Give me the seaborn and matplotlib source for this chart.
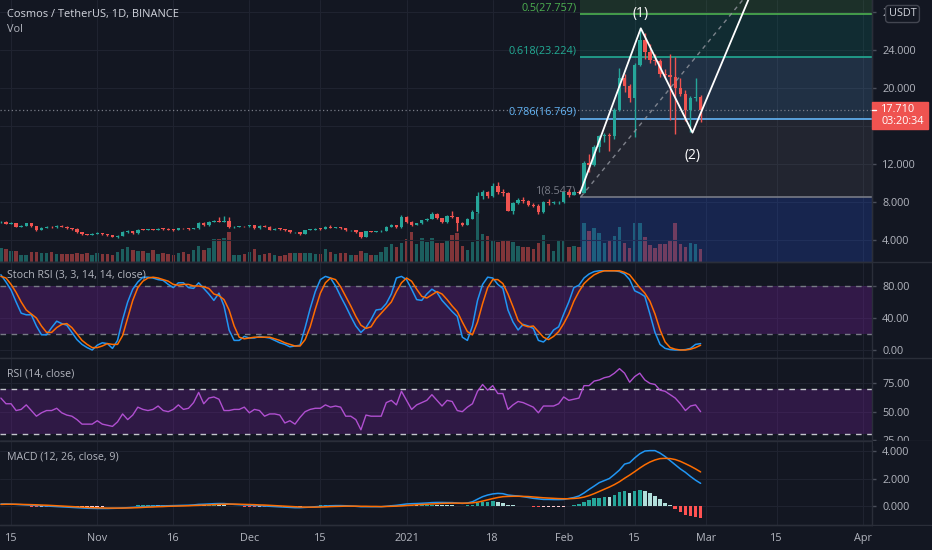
import numpy as np
import matplotlib.pyplot as plt
import seaborn as sns
from matplotlib.patches import Rectangle
from matplotlib.lines import Line2D

# daily candles ATOM/USDT, index 0 = 13 Oct 2020 ... 138 = 28 Feb 2021
close = [5.93, 5.72, 5.78, 5.42, 5.48, 5.75, 5.48, 5.05, 5.30, 5.40,
         5.32, 5.50, 5.42, 5.22, 5.18, 4.82, 4.60, 4.56, 4.62, 4.72,
         4.62, 4.50, 4.36, 4.42, 4.85, 4.92, 4.72, 5.10, 5.08, 5.10,
         5.08, 5.20, 5.18, 5.10, 5.06, 5.26, 5.24, 5.16, 5.22, 5.82,
         5.56, 5.90, 6.00, 5.92, 6.02, 5.32, 5.42, 5.47, 5.45, 5.55,
         5.25, 5.50, 5.40, 5.10, 5.20, 5.18, 5.05, 4.80, 4.82, 4.66,
         5.05, 5.10, 5.20, 5.18, 5.40, 5.30, 5.32, 5.27, 5.00, 5.02,
         4.80, 4.35, 4.90, 4.88, 4.90, 4.95, 5.40, 5.60, 5.35, 6.45,
         5.90, 5.60, 5.75, 6.10, 6.25, 6.75, 6.30, 5.85, 6.50, 6.40,
         5.75, 5.60, 6.25, 6.90, 8.60, 9.00, 8.60, 9.70, 9.00, 8.90,
         7.10, 7.90, 8.20, 8.10, 7.70, 7.60, 6.90, 8.00, 7.90, 7.95,
         8.00, 9.00, 8.75, 9.05, 8.95, 12.07, 11.90, 13.80, 14.90, 15.10,
         14.90, 17.70, 21.00, 20.20, 18.90, 22.40, 25.05, 23.80, 22.95, 22.80,
         21.50, 21.35, 21.15, 20.00, 19.40, 17.70, 18.90, 19.10, 17.71]
high = [6.00, 5.95, 5.85, 5.82, 5.55, 5.80, 5.80, 5.52, 5.35, 5.45,
        5.45, 5.55, 5.55, 5.45, 5.28, 5.22, 4.85, 4.66, 4.70, 4.80,
        4.76, 4.65, 4.52, 4.50, 4.92, 5.00, 4.95, 5.15, 5.20, 5.15,
        5.15, 5.25, 5.25, 5.22, 5.12, 5.30, 5.30, 5.26, 5.28, 5.90,
        5.90, 5.95, 6.08, 6.45, 6.50, 6.40, 5.48, 5.52, 5.52, 5.62,
        5.58, 5.55, 5.55, 5.45, 5.25, 5.25, 5.20, 5.08, 4.88, 4.86,
        5.10, 5.15, 5.25, 5.25, 5.45, 5.60, 5.38, 5.35, 5.30, 5.08,
        5.05, 4.85, 4.95, 4.96, 4.96, 5.00, 5.45, 5.68, 5.62, 6.60,
        6.50, 5.95, 5.82, 6.15, 6.32, 6.95, 6.80, 6.35, 6.60, 7.00,
        6.45, 5.85, 6.30, 7.15, 9.00, 9.30, 9.20, 9.95, 10.15, 9.40,
        9.00, 8.05, 8.45, 8.55, 8.20, 7.85, 7.75, 8.10, 8.30, 8.10,
        8.15, 9.10, 9.40, 9.20, 9.25, 12.30, 13.00, 14.00, 15.10, 15.30,
        15.30, 17.90, 22.07, 21.50, 20.40, 22.60, 26.28, 25.80, 24.60, 23.60,
        23.00, 22.00, 23.60, 23.30, 21.00, 19.80, 19.20, 21.00, 19.30]
low = [5.80, 5.65, 5.68, 5.38, 5.38, 5.45, 5.42, 4.98, 5.00, 5.26,
       5.25, 5.28, 5.35, 5.15, 5.10, 4.75, 4.52, 4.48, 4.52, 4.58,
       4.55, 4.42, 4.28, 4.25, 4.38, 4.75, 4.65, 4.68, 5.00, 5.02,
       5.00, 5.05, 5.10, 5.05, 4.98, 5.02, 5.18, 5.10, 5.12, 5.15,
       5.50, 5.50, 5.85, 5.85, 5.85, 5.25, 5.28, 5.38, 5.38, 5.40,
       5.18, 5.20, 5.35, 5.05, 5.05, 5.10, 4.98, 4.72, 4.72, 4.55,
       4.60, 5.00, 5.05, 5.10, 5.12, 5.22, 5.22, 5.18, 4.92, 4.92,
       4.72, 4.18, 4.30, 4.80, 4.82, 4.85, 4.90, 5.35, 5.28, 5.30,
       5.80, 5.50, 5.55, 5.70, 6.05, 6.20, 6.20, 5.78, 5.80, 6.30,
       4.95, 5.45, 5.55, 6.20, 6.85, 8.30, 8.45, 8.50, 8.80, 8.60,
       7.00, 6.75, 7.80, 7.90, 7.55, 7.45, 6.70, 6.85, 7.70, 7.75,
       7.80, 7.90, 8.55, 8.70, 8.80, 8.90, 11.20, 11.80, 13.30, 14.30,
       13.40, 14.60, 17.60, 19.60, 18.56, 14.88, 22.30, 23.10, 22.60, 22.40,
       21.20, 21.00, 16.60, 15.20, 19.20, 16.50, 15.40, 18.60, 16.46]
first_open = 5.85

# volume, millions ATOM
volume = [1.37, 1.27, 1.13, 1.13, 0.67, 0.67, 0.97, 1.03, 0.87, 0.87,
          0.97, 0.77, 0.80, 0.80, 0.80, 0.87, 0.80, 0.87, 0.70, 0.87,
          0.80, 0.80, 0.70, 1.03, 1.27, 1.47, 1.20, 1.13, 1.13, 0.93,
          1.20, 0.80, 0.87, 0.80, 0.70, 0.93, 1.03, 0.80, 1.20, 1.60,
          1.20, 1.37, 2.27, 2.27, 2.40, 3.03, 0.70, 0.70, 0.80, 1.03,
          1.27, 0.70, 0.77, 0.87, 0.70, 0.60, 0.70, 0.87, 0.87, 0.93,
          0.87, 0.93, 0.80, 0.80, 1.27, 1.03, 0.80, 0.87, 0.87, 0.70,
          0.70, 1.13, 0.93, 0.70, 0.70, 1.03, 1.47, 1.80, 1.47, 1.93,
          2.27, 3.03, 1.80, 2.37, 2.03, 2.37, 1.87, 1.87, 2.20, 2.70,
          2.87, 1.60, 1.20, 2.03, 4.87, 2.80, 2.60, 2.20, 2.03, 2.13,
          2.13, 2.03, 1.60, 1.53, 1.47, 1.27, 1.87, 2.70, 1.80, 1.13,
          2.13, 2.13, 1.47, 1.60, 1.53, 3.87, 3.13, 3.37, 2.87, 1.87,
          2.13, 2.60, 3.47, 1.87, 1.37, 3.93, 3.87, 2.53, 1.70, 1.37,
          1.80, 1.80, 2.20, 3.87, 1.80, 1.53, 1.93, 1.80, 1.27]

stoch_k = [94, 85, 75, 60, 46, 44, 44, 30, 19, 19,
           28, 36, 33, 31, 22, 13, 7, 3, 0, 6,
           9, 8, 2, 12, 38, 60, 76, 85, 91, 91,
           90, 88, 87, 82, 78, 84, 84, 78, 77, 84,
           77, 70, 62, 71, 55, 25, 12, 12, 17, 15,
           15, 17, 16, 15, 12, 9, 7, 4, 5, 6,
           28, 52, 73, 88, 92, 90, 80, 67, 55, 42,
           30, 22, 28, 38, 50, 51, 58, 70, 90, 92,
           88, 76, 63, 62, 70, 76, 72, 62, 55, 48,
           42, 16, 12, 30, 62, 82, 91, 90, 82, 77,
           50, 35, 25, 32, 30, 27, 12, 10, 16, 25,
           29, 45, 60, 78, 81, 90, 95, 98, 99, 99,
           99, 99, 98, 95, 88, 74, 71, 67, 45, 22,
           7, 2, 0.5, 0, 0, 0.5, 2, 7, 8]
stoch_d = [92, 90, 82, 72, 60, 50, 45, 40, 30, 22,
           22, 28, 32, 33, 28, 20, 12, 7, 3, 3,
           5, 8, 7, 7, 18, 40, 62, 78, 86, 90,
           91, 90, 88, 86, 82, 81, 82, 82, 80, 80,
           79, 77, 70, 68, 63, 50, 30, 16, 14, 15,
           16, 16, 16, 16, 14, 12, 9, 7, 5, 5,
           13, 29, 51, 71, 84, 90, 88, 79, 67, 55,
           42, 31, 27, 29, 39, 46, 53, 60, 73, 84,
           90, 86, 76, 67, 65, 69, 73, 70, 63, 55,
           48, 35, 23, 19, 35, 58, 78, 88, 88, 83,
           70, 54, 37, 31, 29, 30, 23, 16, 13, 17,
           23, 33, 45, 61, 73, 83, 89, 94, 97, 99,
           99, 99, 99, 97, 94, 86, 78, 71, 61, 45,
           25, 10, 3, 1, 0, 0, 1, 3, 6]
rsi = [62, 57, 57, 51, 52, 56, 51, 46, 49, 51,
       51, 53, 49, 47, 46, 43, 39, 39, 39, 42,
       39, 38, 37, 41, 48, 43, 47, 54, 52, 51,
       52, 55, 51, 50, 52, 56, 52, 53, 58, 67,
       57, 62, 63, 61, 51, 51, 52, 52, 54, 49,
       52, 51, 46, 48, 48, 47, 40, 42, 39, 45,
       50, 52, 53, 53, 56, 54, 55, 54, 46, 46,
       43, 34, 47, 46, 46, 46, 58, 60, 56, 68,
       60, 52, 56, 58, 60, 65, 60, 55, 60, 59,
       51, 50, 54, 57, 68, 74, 69, 73, 66, 66,
       52, 56, 59, 58, 56, 54, 49, 55, 55, 55,
       57, 63, 60, 61, 62, 73, 73, 77, 78, 80,
       81, 84, 88, 84, 76, 81, 84, 78, 75, 74,
       69, 68, 65, 62, 57, 51, 55, 56, 50]
macd = [0.15, 0.15, 0.14, 0.12, 0.10, 0.08, 0.06, 0.04, 0.02, 0.00,
        -0.02, -0.04, -0.06, -0.08, -0.10, -0.12, -0.14, -0.16, -0.17, -0.18,
        -0.18, -0.18, -0.17, -0.16, -0.14, -0.12, -0.10, -0.07, -0.05, -0.03,
        -0.01, 0.00, 0.01, 0.02, 0.03, 0.04, 0.05, 0.06, 0.08, 0.12,
        0.13, 0.15, 0.17, 0.18, 0.18, 0.15, 0.12, 0.10, 0.08, 0.06,
        0.04, 0.02, 0.00, -0.02, -0.04, -0.06, -0.08, -0.10, -0.12, -0.12,
        -0.10, -0.08, -0.05, -0.03, 0.00, 0.02, 0.03, 0.03, 0.02, 0.00,
        -0.02, -0.05, -0.05, -0.05, -0.05, -0.05, -0.02, 0.02, 0.05, 0.10,
        0.15, 0.17, 0.18, 0.20, 0.22, 0.25, 0.26, 0.26, 0.25, 0.25,
        0.22, 0.19, 0.22, 0.31, 0.50, 0.68, 0.80, 0.88, 0.92, 0.90,
        0.80, 0.76, 0.73, 0.68, 0.62, 0.56, 0.52, 0.48, 0.48, 0.47,
        0.47, 0.48, 0.55, 0.62, 0.73, 0.95, 1.21, 1.45, 1.70, 1.85,
        2.00, 2.30, 2.62, 3.05, 3.15, 3.50, 3.80, 4.00, 4.03, 4.03,
        3.85, 3.60, 3.30, 3.00, 2.70, 2.45, 2.15, 1.88, 1.65]
signal = [0.12, 0.13, 0.13, 0.13, 0.12, 0.11, 0.10, 0.09, 0.07, 0.06,
          0.04, 0.02, 0.00, -0.02, -0.04, -0.06, -0.08, -0.10, -0.12, -0.13,
          -0.14, -0.15, -0.15, -0.15, -0.15, -0.14, -0.13, -0.12, -0.10, -0.08,
          -0.07, -0.05, -0.04, -0.02, -0.01, 0.00, 0.01, 0.02, 0.04, 0.05,
          0.07, 0.08, 0.10, 0.12, 0.13, 0.14, 0.14, 0.13, 0.12, 0.11,
          0.10, 0.08, 0.07, 0.05, 0.03, 0.01, -0.01, -0.03, -0.05, -0.07,
          -0.08, -0.08, -0.08, -0.07, -0.06, -0.04, -0.03, -0.02, -0.01, -0.01,
          -0.01, -0.02, -0.02, -0.03, -0.03, -0.04, -0.03, -0.02, -0.01, 0.01,
          0.04, 0.06, 0.09, 0.11, 0.13, 0.15, 0.17, 0.19, 0.20, 0.21,
          0.21, 0.21, 0.21, 0.23, 0.28, 0.36, 0.45, 0.54, 0.62, 0.68,
          0.70, 0.71, 0.71, 0.70, 0.69, 0.66, 0.63, 0.60, 0.58, 0.56,
          0.54, 0.53, 0.53, 0.55, 0.58, 0.65, 0.76, 0.90, 1.06, 1.22,
          1.38, 1.56, 1.77, 2.02, 2.25, 2.50, 2.76, 3.00, 3.20, 3.35,
          3.45, 3.47, 3.45, 3.38, 3.25, 3.08, 2.90, 2.70, 2.48]
hist = [0.03, 0.02, 0.01, -0.01, -0.02, -0.03, -0.04, -0.05, -0.05, -0.06,
        -0.06, -0.06, -0.06, -0.06, -0.06, -0.06, -0.06, -0.06, -0.05, -0.05,
        -0.04, -0.03, -0.02, -0.01, 0.01, 0.02, 0.03, 0.05, 0.05, 0.05,
        0.06, 0.05, 0.05, 0.04, 0.04, 0.04, 0.04, 0.04, 0.04, 0.07,
        0.06, 0.07, 0.07, 0.06, 0.05, 0.01, -0.02, -0.03, -0.04, -0.05,
        -0.06, -0.06, -0.07, -0.07, -0.07, -0.07, -0.07, -0.07, -0.07, -0.05,
        -0.02, 0.00, 0.03, 0.04, 0.06, 0.06, 0.06, 0.05, 0.03, 0.01,
        -0.01, -0.03, -0.03, -0.02, -0.02, -0.01, 0.01, 0.04, 0.06, 0.09,
        0.11, 0.11, 0.09, 0.09, 0.09, 0.10, 0.09, 0.07, 0.05, 0.04,
        0.01, -0.02, 0.05, 0.10, 0.22, 0.30, 0.32, 0.33, 0.28, 0.22,
        0.10, 0.05, 0.03, 0.02, -0.02, -0.05, -0.10, -0.10, -0.10, -0.09,
        -0.07, -0.05, 0.02, 0.08, 0.15, 0.28, 0.44, 0.55, 0.62, 0.65,
        0.64, 0.80, 1.02, 1.08, 0.98, 1.08, 1.15, 1.12, 0.92, 0.72,
        0.48, 0.24, 0.07, -0.24, -0.42, -0.62, -0.72, -0.80, -0.86]

date_ticks = [2, 19, 34, 49, 63, 80, 97, 111, 125, 139, 153, 170]
date_labels = ['15', 'Nov', '16', 'Dec', '15', '2021', '18', 'Feb', '15', 'Mar', '15', 'Apr']

price_ticks = [4, 8, 12, 16, 20, 24, 28]
# 16.000 sits under the last-price badge, 28.000 under the USDT badge
price_labels = ['4.000', '8.000', '12.000', '', '20.000', '24.000', '2']

# fib retracement drawn from the 4 Feb low
fib_names = ['0.382', '0.5', '0.618', '0.786', '1', '1.618']
fib_prices = [32.290, 27.757, 23.224, 16.769, 8.547, -15.196]
fib_colors = ['#4caf50', '#4caf50', '#22ab94', '#64b5f6', '#787b86', '#2962ff']
zone_colors = ['#4caf50', '#089981', '#64b5f6', '#787b86', '#2962ff']
zone_alpha = [0.17, 0.17, 0.16, 0.15, 0.2]
fib_from = 114.3

# elliott count (1)-(2) and dashed trend line
wave_days = [114.2, 126.2, 136.4, 148.0]
wave_prices = [8.92, 26.28, 15.30, 30.02]
trend_days = [114.4, 148.0]
trend_prices = [8.56, 30.37]

BG = '#131722'
GRID = '#1f2330'
SEP = '#2a2e39'
TXT = '#b2b5be'
UP = '#26a69a'
DOWN = '#ef5350'
W, H = 932, 550
XMAX = 171.8

sns.set_theme(style='dark', rc={'axes.facecolor': BG, 'figure.facecolor': BG,
                                'savefig.facecolor': BG})
plt.rcParams['font.family'] = ['Open Sans', 'DejaVu Sans']

fig = plt.figure(figsize=(W / 100, H / 100), dpi=100)


def pane(top, bottom, sharex=None):
    ax = fig.add_axes([0, 1 - bottom / H, 872 / W, (bottom - top) / H], sharex=sharex)
    ax.set_facecolor(BG)
    for s in ('top', 'left'):
        ax.spines[s].set_visible(False)
    for s in ('bottom', 'right'):
        ax.spines[s].set_color(SEP)
        ax.spines[s].set_linewidth(1)
    ax.yaxis.tick_right()
    ax.tick_params(axis='y', length=3, width=1, color='#4a4e5a', pad=4.3,
                   labelsize=7.8, labelcolor=TXT)
    ax.tick_params(axis='x', length=0, labelbottom=False)
    ax.grid(True, color=GRID, lw=0.8)
    ax.set_axisbelow(True)
    return ax


days = np.arange(len(close))
c = np.array(close)
o = np.r_[first_open, c[:-1]]
colors = np.where(c >= o, UP, DOWN)

# main pane: volume underneath, price on top
vax = pane(0, 262)
vax.grid(False)
vax.bar(days, volume, width=0.7, color=colors, alpha=0.5, lw=0)
vax.set_ylim(0, 26.2)
vax.set_yticks([])
vax.set_xlim(-0.18, XMAX)
vax.set_xticks(date_ticks)

ax = pane(0, 262, sharex=vax)
ax.patch.set_alpha(0)
ax.set_zorder(vax.get_zorder() + 1)
ax.set_ylim(1.684, 29.263)
ax.set_yticks(price_ticks)
ax.set_yticklabels(price_labels)

for i, col in enumerate(zone_colors):
    ax.fill_between([fib_from, XMAX], fib_prices[i + 1], fib_prices[i],
                    color=col, alpha=zone_alpha[i], lw=0, zorder=1)
for name, price, col in zip(fib_names, fib_prices, fib_colors):
    if 0 < price < 29:
        ax.hlines(price, fib_from, XMAX, color=col, lw=1.2, zorder=2)
        ax.annotate(f'{name}({price:.3f})', (fib_from, price), xytext=(-3, 0.5),
                    textcoords='offset points', ha='right', va='bottom',
                    color=col, fontsize=7.8, zorder=2.2)

ax.axhline(close[-1], color='#787b86', ls=(0, (1, 2)), lw=0.9, zorder=2)
ax.vlines(days, low, high, colors=colors, lw=1, zorder=3)
ax.bar(days, np.maximum(np.abs(c - o), 0.06), bottom=np.minimum(o, c),
       width=0.68, color=colors, lw=0, zorder=4)

ax.plot(trend_days, trend_prices, color='#9598a1', lw=1, ls=(0, (3, 3)), alpha=0.8, zorder=5)
ax.plot(wave_days, wave_prices, color='white', lw=1.3, zorder=6)
ax.annotate('(1)', (wave_days[1], wave_prices[1]), xytext=(0, 5), textcoords='offset points',
            ha='center', va='bottom', color='white', fontsize=10)
ax.annotate('(2)', (wave_days[2], wave_prices[2]), xytext=(0, -11), textcoords='offset points',
            ha='center', va='top', color='white', fontsize=10)

# last price badge
btr = ax.get_yaxis_transform()
ax.add_patch(Rectangle((1.0, close[-1] - 2.03), 56 / 872, 2.84, transform=btr,
                       color='#ef5350', clip_on=False, zorder=10))
ax.plot([1.0, 1.0046], [close[-1], close[-1]], transform=btr, color='white', lw=1,
        clip_on=False, zorder=11)
ax.annotate(f'{close[-1]:.3f}', (1.0, close[-1]), xycoords=btr, xytext=(6.5, 0),
            textcoords='offset points', va='center', color='white', fontsize=7.8,
            annotation_clip=False, zorder=11)
ax.annotate('03:20:34', (1.0, close[-1]), xycoords=btr, xytext=(6.5, -8.8),
            textcoords='offset points', va='center', color='white', fontsize=7.8,
            annotation_clip=False, zorder=11)

# stoch rsi
sax = pane(262, 358, sharex=vax)
sax.set_ylim(-10, 110)
sax.axhspan(20, 80, color='#7b1fa2', alpha=0.3, lw=0)
for lvl in (80, 20):
    sax.axhline(lvl, color='#787b86', ls=(0, (4, 4)), lw=1)
sns.lineplot(x=days, y=stoch_k, ax=sax, color='#2196f3', lw=1.1, legend=False)
sns.lineplot(x=days, y=stoch_d, ax=sax, color='#ff6d00', lw=1.1, legend=False)
sax.set_yticks([0, 40, 80])
sax.set_yticklabels(['0.00', '40.00', '80.00'])

# rsi
rax = pane(358, 441, sharex=vax)
rax.set_ylim(24.1, 97.4)
rax.axhspan(30, 70, color='#7b1fa2', alpha=0.28, lw=0)
for lvl in (70, 30):
    rax.axhline(lvl, color='#c3c5cc', ls=(0, (4, 4)), lw=1)
sns.lineplot(x=days, y=rsi, ax=rax, color='#b04fd0', lw=1.0, legend=False)
rax.set_yticks([25, 50, 75])
rax.set_yticklabels(['25.00', '50.00', '75.00'])

# macd
max_ = pane(441, 525, sharex=vax)
max_.set_ylim(-1.38, 4.73)
h = np.array(hist)
prev = np.r_[h[0], h[:-1]]
hcol = np.where(h >= 0, np.where(h >= prev, '#26a69a', '#b2dfdb'),
                np.where(h < prev, '#ff5252', '#ffcdd2'))
max_.bar(days, h, width=0.7, color=hcol, lw=0)
sns.lineplot(x=days, y=macd, ax=max_, color='#2196f3', lw=1.1, legend=False)
sns.lineplot(x=days, y=signal, ax=max_, color='#ff6d00', lw=1.1, legend=False)
max_.set_yticks([0, 2, 4])
max_.set_yticklabels(['0.000', '2.000', '4.000'])
max_.tick_params(axis='x', labelbottom=True, labelsize=7.8, labelcolor=TXT, pad=6)
max_.set_xticklabels(date_labels)

for a in (vax, ax, sax, rax, max_):
    a.set_xlabel('')
    a.set_ylabel('')

# titles
fig.text(7 / W, 1 - 14 / H, 'Cosmos / TetherUS, 1D, BINANCE', va='center',
         color='#d1d4dc', fontsize=7.9)
fig.text(7 / W, 1 - 29 / H, 'Vol', va='center', color=TXT, fontsize=7.8)
fig.text(7 / W, 1 - 275 / H, 'Stoch RSI (3, 3, 14, 14, close)', va='center', color=TXT, fontsize=7.7)
fig.text(7 / W, 1 - 374 / H, 'RSI (14, close)', va='center', color=TXT, fontsize=7.7)
fig.text(7 / W, 1 - 457 / H, 'MACD (12, 26, close, 9)', va='center', color=TXT, fontsize=7.7)

fig.text(902.5 / W, 1 - 14 / H, 'USDT', ha='center', va='center', fontsize=7.8, color='#d1d4dc',
         bbox=dict(boxstyle='round,pad=0.28', fc=BG, ec='#434651', lw=1))

# price-scale column: separators and clipped labels
for y in (262, 358, 441, 525):
    fig.add_artist(Line2D([0, 1], [1 - y / H, 1 - y / H], color=SEP, lw=1, zorder=4))
fig.add_artist(Rectangle((872.5 / W, 1 - 446 / H), 59 / W, 4.6 / H, transform=fig.transFigure,
                         fc=BG, ec='none', zorder=5))
fig.add_artist(Rectangle((872.5 / W, 0), 59 / W, 24 / H, transform=fig.transFigure,
                         fc=BG, ec='none', zorder=5))

fig.savefig('out.png', dpi=100, facecolor=BG)
